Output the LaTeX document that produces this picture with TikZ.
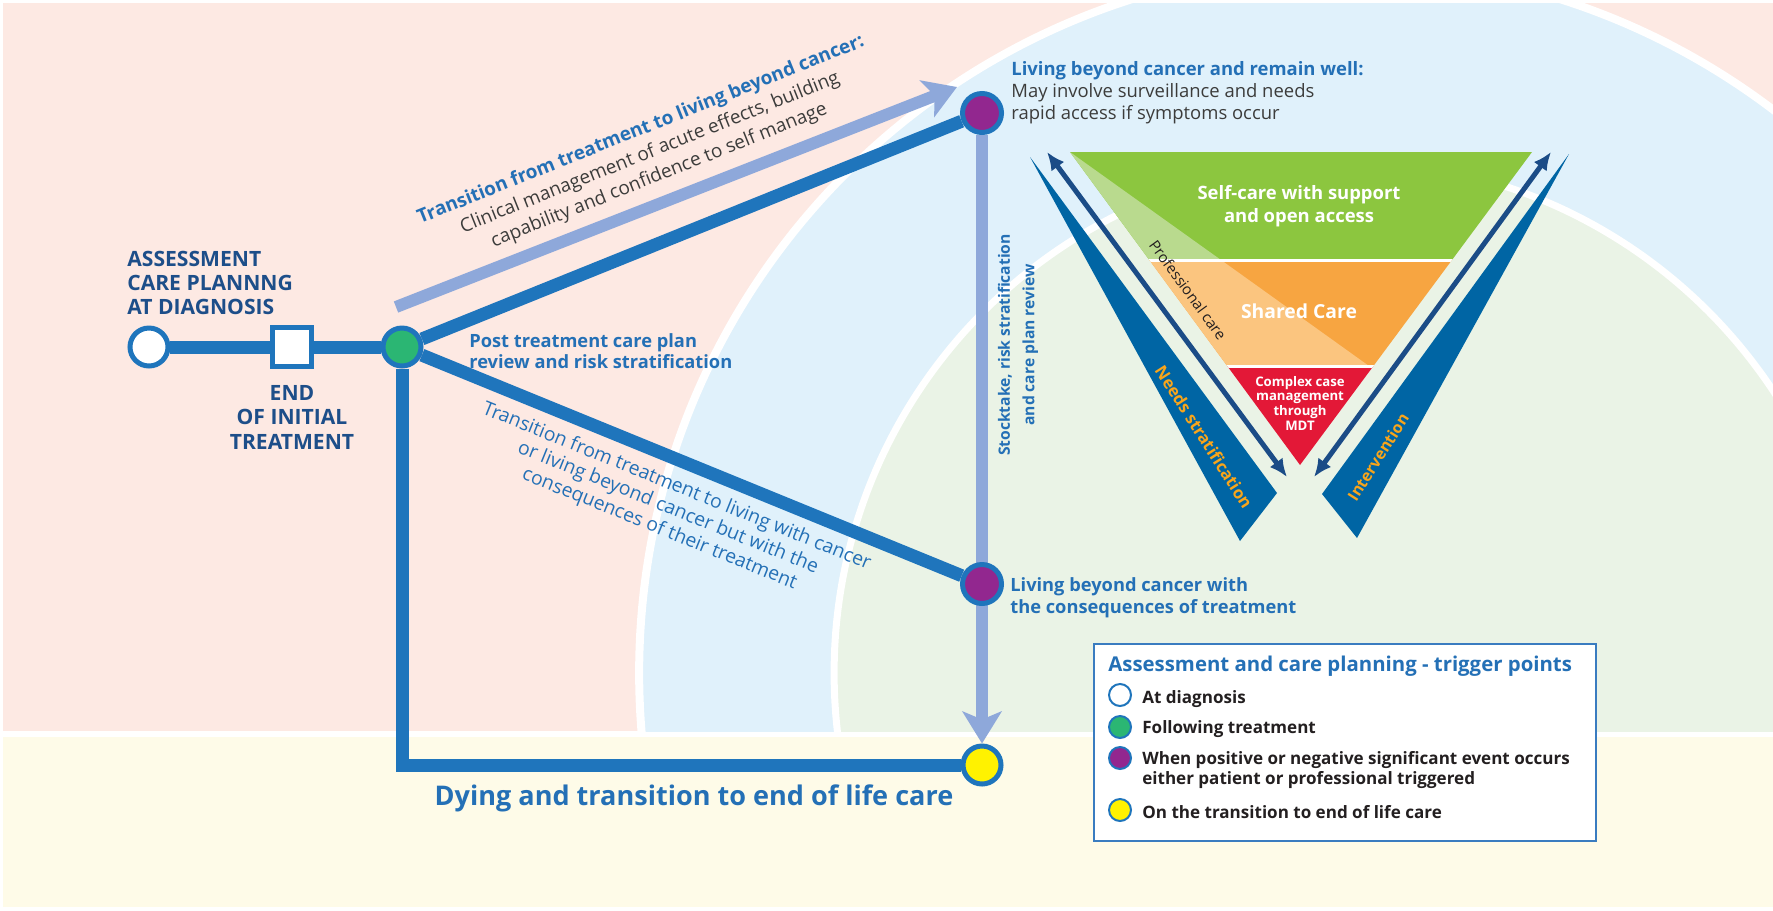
\documentclass[tikz,border=0pt]{standalone}
\usepackage{fontspec}
\setmainfont{Open Sans}
\usepackage{xcolor}
\usepackage{tikz}
\usetikzlibrary{shapes,arrows.meta,positioning}

\definecolor{pinkbg}{HTML}{FDE9E3}
\definecolor{bluebg}{HTML}{E0F1FB}
\definecolor{greenbg}{HTML}{EAF3E6}
\definecolor{creambg}{HTML}{FEFBE8}
\definecolor{trackblue}{HTML}{1F75BC}
\definecolor{paleblue}{HTML}{8EA8DA}
\definecolor{navytext}{HTML}{1D4E89}
\definecolor{bluetext}{HTML}{2470B6}
\definecolor{greytext}{HTML}{3C3C3B}
\definecolor{inktext}{HTML}{231F20}
\definecolor{nodegreen}{HTML}{2BB673}
\definecolor{nodepurple}{HTML}{92278F}
\definecolor{nodeyellow}{HTML}{FFF200}
\definecolor{selfgreen}{HTML}{8CC63F}
\definecolor{selfgreenlt}{HTML}{B9DA8E}
\definecolor{sharedorange}{HTML}{F7A541}
\definecolor{sharedorangelt}{HTML}{FBC57F}
\definecolor{complexred}{HTML}{E31837}
\definecolor{wedgeblue}{HTML}{0065A4}
\definecolor{arrownavy}{HTML}{1B4C87}
\definecolor{wedgetext}{HTML}{F9A51A}
\definecolor{legendblue}{HTML}{3A7CC0}

\newcommand{\setfs}[2]{\fontsize{#1}{#2}\selectfont}

\pgfdeclarelayer{bg}
\pgfdeclarelayer{tracks}
\pgfsetlayers{bg,tracks,main}

\begin{document}
\begin{tikzpicture}[x=0.02cm,y=-0.02cm,
      stopnode/.style={circle,draw=trackblue,line width=0.1cm,minimum size=0.76cm,inner sep=0pt},
      keynode/.style={circle,draw=trackblue,line width=0.04cm,minimum size=0.44cm,inner sep=0pt},
      bluetrack/.style={draw=trackblue,line width=0.26cm},
      paletrack/.style={draw=paleblue,line width=0.24cm,-{Stealth[length=0.64cm,width=0.78cm,inset=0.16cm]}},
      twoway/.style={draw=arrownavy,line width=0.1cm,{Latex[length=0.36cm,width=0.32cm]}-{Latex[length=0.36cm,width=0.32cm]}},
      lbl/.style={inner sep=0pt,align=left},
      keytext/.style={lbl,anchor=north west,text=inktext,font=\setfs{9.7}{11.4}\bfseries}]
  \useasboundingbox (0,0) rectangle (1773,910);

  % background bands
  \begin{pgfonlayer}{bg}
    \fill[white] (0,0) rectangle (1773,910);
    \fill[pinkbg] (3,3) rectangle (1773,731);
    \begin{scope}
      \clip (3,3) rectangle (1773,731);
      \filldraw[fill=bluebg,draw=white,line width=0.16cm] (1346,673) circle[radius=14.14cm];
      \filldraw[fill=greenbg,draw=white,line width=0.14cm] (1346,673) circle[radius=10.24cm];
    \end{scope}
    \fill[creambg] (3,737) rectangle (1773,907);
  \end{pgfonlayer}

  % trigger points
  \node[stopnode,fill=white] (diag) at (149,347) {};
  \node[rectangle,draw=trackblue,line width=0.1cm,fill=white,minimum size=0.78cm,inner sep=0pt] (endtx) at (292,347) {};
  \node[stopnode,fill=nodegreen] (post) at (402,347) {};
  \node[stopnode,fill=nodepurple,minimum size=0.78cm] (well) at (982,113) {};
  \node[stopnode,fill=nodepurple,minimum size=0.78cm] (conseq) at (982,584) {};
  \node[stopnode,fill=nodeyellow] (eol) at (982,765) {};
  \coordinate (liftstart) at (396,307);
  \coordinate (lifttip) at (957,87);

  \begin{pgfonlayer}{tracks}
    \draw[bluetrack] (diag) -- (endtx) -- (post);
    \draw[bluetrack] (post) -- (well);
    \draw[bluetrack] (post) -- (conseq);
    \draw[bluetrack] (post) |- (eol);
    \draw[paletrack] (well) -- (eol);
    \draw[paletrack] (liftstart) -- (lifttip);
  \end{pgfonlayer}

  % care funnel
  \begin{scope}
    \clip (1070,152) -- (1532,152) -- (1300,465) -- cycle;
    \fill[selfgreen] (1000,140) rectangle (1600,260);
    \fill[sharedorange] (1000,260) rectangle (1600,366);
    \fill[complexred] (1000,366) rectangle (1600,480);
    \fill[selfgreenlt] (1070,152) -- (1221,260) -- (1000,260) -- (1000,140) -- cycle;
    \fill[sharedorangelt] (1221,260) -- (1369,366) -- (1000,366) -- (1000,260) -- cycle;
    \draw[white,line width=0.07cm] (1000,260.5) -- (1600,260.5) (1000,366.5) -- (1600,366.5);
  \end{scope}
  \fill[wedgeblue] (1030,157) -- (1277,493) -- (1240,541) -- cycle;
  \fill[wedgeblue] (1569,154) -- (1322,494) -- (1357,538) -- cycle;
  \coordinate (needtop) at (1047,152);
  \coordinate (needfoot) at (1287,477);
  \coordinate (acttop) at (1551,152);
  \coordinate (actfoot) at (1314,477);
  \draw[twoway] (needtop) -- (needfoot);
  \draw[twoway] (acttop) -- (actfoot);

  % labels
  \node[lbl,anchor=north west,text=navytext,font=\setfs{12}{13.7}\bfseries] (assesslbl) at (127,251)
    {ASSESSMENT\\CARE PLANNNG\\AT DIAGNOSIS};
  \node[lbl,align=center,below=0.33cm of endtx,text=navytext,font=\setfs{12}{13.7}\bfseries] (endlbl)
    {END\\OF INITIAL\\TREATMENT};
  \node[lbl,anchor=north west,text=bluetext,font=\setfs{10.4}{12}\bfseries] (postlbl) at (469,333)
    {Post treatment care plan\\review and risk stratification};
  \node[lbl,align=center,rotate=21.8,text=greytext,font=\setfs{10.8}{14}] (liftlbl) at (650,153)
    {{\color{bluetext}\bfseries Transition from treatment to living beyond cancer:}\\
     Clinical management of acute effects, building\\capability and confidence to self manage};
  \node[lbl,align=center,rotate=-22,text=bluetext,font=\setfs{11}{13}] (withlbl) at (668,508)
    {Transition from treatment to living with cancer\\or living beyond cancer but with the\\consequences of their treatment};
  \node[lbl,align=center,rotate=90,text=bluetext,font=\setfs{8.9}{14}\bfseries] (stocklbl) at (1018,345)
    {Stocktake, risk stratification\\and care plan review};
  \node[lbl,anchor=north west,text=greytext,font=\setfs{10.5}{12.5}] (welllbl) at (1011,61)
    {{\color{bluetext}\bfseries Living beyond cancer and remain well:}\\May involve surveillance and needs\\rapid access if symptoms occur};
  \node[lbl,anchor=north west,text=bluetext,font=\setfs{10.4}{12.5}\bfseries] (conseqlbl) at (1010,577)
    {Living beyond cancer with\\the consequences of treatment};
  \node[lbl,align=center,anchor=north,text=white,font=\setfs{10.5}{13}\bfseries] (selflbl) at (1299,185)
    {Self-care with support\\and open access};
  \node[lbl,anchor=north,text=white,font=\setfs{11}{13}\bfseries] (sharedlbl) at (1299,303) {Shared Care};
  \node[lbl,align=center,anchor=north,text=white,font=\setfs{7.5}{8.3}\bfseries] (complexlbl) at (1300,376)
    {Complex case\\management\\through\\MDT};
  \node[lbl,rotate=-54,text=inktext,font=\setfs{8.5}{9}] (proflbl) at (1188,290) {Professional care};
  \node[lbl,rotate=-57.5,text=wedgetext,font=\setfs{9.5}{11}\bfseries] (needlbl) at (1204,437) {Needs stratification};
  \node[lbl,rotate=57.5,text=wedgetext,font=\setfs{9}{11}\bfseries] (actlbl) at (1378,457) {Intervention};
  \node[lbl,anchor=north,text=bluetext,font=\setfs{15.4}{17}\bfseries] (dyinglbl) at (694,784)
    {Dying and transition to end of life care};

  % key
  \node[draw=legendblue,line width=0.04cm,fill=white,anchor=north west,minimum width=10.04cm,minimum height=3.94cm] (legend) at (1093,643) {};
  \node[lbl,anchor=north west,text=bluetext,font=\setfs{11.6}{13}\bfseries] (keytitle) at (1108,656)
    {Assessment and care planning - trigger points};
  \node[keynode,fill=white] (keydiag) at (1120,695) {};
  \node[keynode,fill=nodegreen] (keypost) at (1120,727) {};
  \node[keynode,fill=nodepurple] (keyevent) at (1120,758) {};
  \node[keynode,fill=nodeyellow] (keyeol) at (1120,810) {};
  \node[keytext] (keydiaglbl) at (1142,690) {At diagnosis};
  \node[keytext] (keypostlbl) at (1142,720) {Following treatment};
  \node[keytext] (keyeventlbl) at (1142,751) {When positive or negative significant event occurs\\either patient or professional triggered};
  \node[keytext] (keyeollbl) at (1142,805) {On the transition to end of life care};
\end{tikzpicture}
\end{document}
